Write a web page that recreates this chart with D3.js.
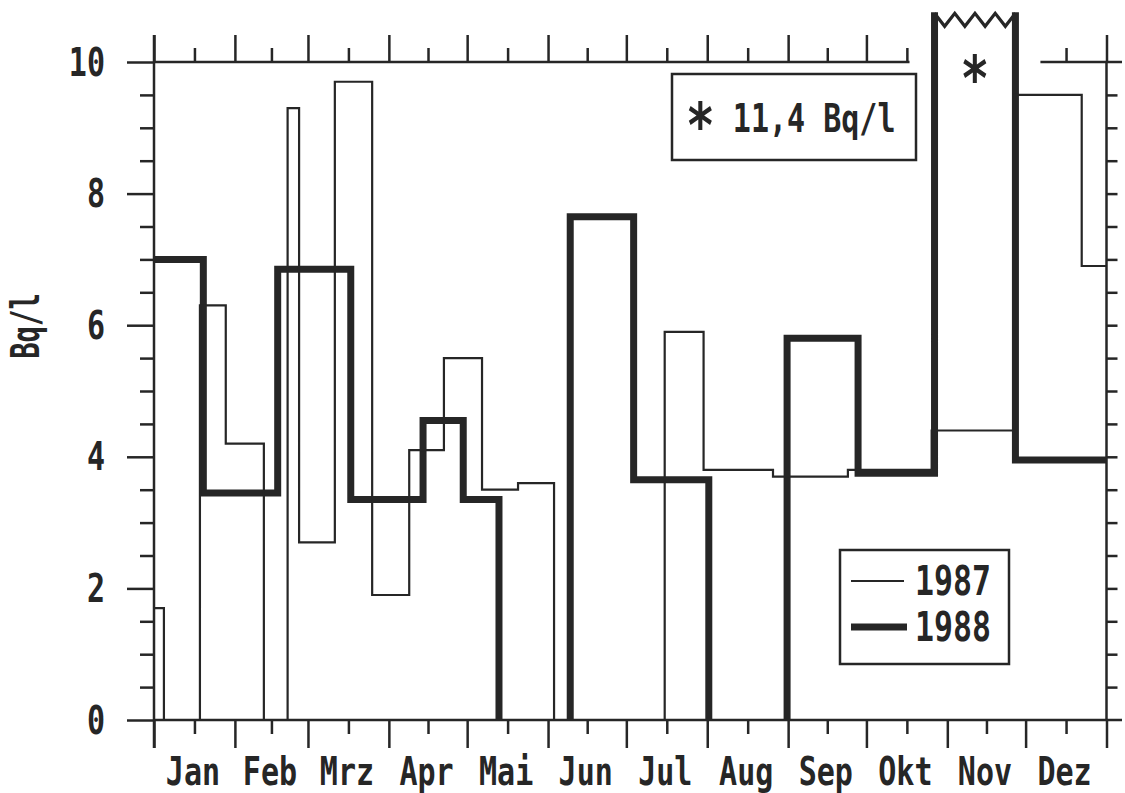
<!DOCTYPE html>
<html>
<head>
<meta charset="utf-8">
<script src="https://cdn.jsdelivr.net/npm/d3@7"></script>
<style>
  html, body { margin: 0; padding: 0; background: #fff; }
  svg { display: block; }
  text { font-family: "DejaVu Sans Mono", "Liberation Mono", monospace; font-weight: bold; fill: #262626; }
</style>
</head>
<body>
<svg id="chart" width="1125" height="793"></svg>
<script>
// Month names and lengths (non-leap year, x axis runs over day of year)
const months = ["Jan", "Feb", "Mrz", "Apr", "Mai", "Jun", "Jul", "Aug", "Sep", "Okt", "Nov", "Dez"];
const monthDays = [31, 28, 31, 30, 31, 30, 31, 31, 30, 31, 30, 31];
const yLabelTicks = [0, 2, 4, 6, 8, 10];

// Sampling periods (day-of-year boundaries) and mean activity in Bq/l; 0 = no sample
const bounds1987 = [0, 3.8, 17.6, 27.5, 42.1, 51.2, 55.6, 69.3, 83.6, 97.8, 111.1, 125.7, 139.5, 153.3, 195.7, 210.6, 237.2, 265.9, 298, 329.8, 355.5, 365];
const values1987 = [1.7, 0, 6.3, 4.2, 0, 9.3, 2.7, 9.7, 1.9, 4.1, 5.5, 3.5, 3.6, 0, 5.9, 3.8, 3.7, 3.8, 4.4, 9.5, 6.9];

const bounds1988 = [0, 18.9, 47.4, 75.4, 103.1, 118.5, 132.2, 159.5, 183.8, 212.6, 242.6, 269.8, 299.1, 330.1, 365];
const values1988 = [7.0, 3.45, 6.85, 3.35, 4.55, 3.35, 0, 7.65, 3.65, 0, 5.8, 3.75, 11.4, 3.95];

const seriesNames = ["1987", "1988"];
const noteText = "11,4 Bq/l";
const breakValue = 10.74;   // bars above this are cut with a zigzag

const INK = "#262626";
const FS = 39, SX = 0.77;   // narrow plotter-style lettering

const svg = d3.select("#chart");
const x = d3.scaleLinear().domain([0, 365]).range([154, 1106.5]);
const y = d3.scaleLinear().domain([0, 10]).range([720, 62]);

const monthStarts = d3.cumsum([0].concat(monthDays.slice(0, -1)));
const monthEdges = Array.from(monthStarts).concat([365]);
const monthMids = monthDays.map((d, i) => monthStarts[i] + d / 2);

function styleAxis(g, width) {
  g.selectAll("line").attr("stroke", INK).attr("stroke-width", width);
  g.select(".domain").remove();
}

function narrow(sel) {
  return sel.style("font-size", FS + "px");
}

// ---- bottom axis: month edges (long) and month middles (short, labelled)
const axisB = svg.append("g").attr("transform", `translate(0,${y(0)})`);
axisB.append("g").call(d3.axisBottom(x).tickValues(monthEdges).tickSize(28).tickFormat(""))
  .call(g => styleAxis(g, 2.5));
const axisBMid = axisB.append("g")
  .call(d3.axisBottom(x).tickValues(monthMids).tickSize(14).tickFormat((d, i) => months[i]))
  .call(g => styleAxis(g, 2.5));
axisBMid.selectAll("text")
  .attr("y", null).attr("dy", null).attr("fill", INK)
  .attr("transform", "translate(-2,65) scale(" + SX + ",1)")
  .call(narrow);
svg.append("line").attr("x1", x(0)).attr("x2", 1122).attr("y1", y(0)).attr("y2", y(0))
  .attr("stroke", INK).attr("stroke-width", 2.5);

// ---- top axis, interrupted where the cut November bar passes through
const cutIdx = values1988.findIndex(v => v > breakValue);
const gapL = x(bounds1988[cutIdx]) - 25, gapR = x(bounds1988[cutIdx + 1]) + 25;
const axisT = svg.append("g").attr("transform", `translate(0,${y(10)})`);
axisT.append("g").call(d3.axisTop(x).tickValues(monthEdges.filter(d => x(d) < gapL || x(d) > gapR)).tickSize(27).tickFormat(""))
  .call(g => styleAxis(g, 2.5));
axisT.append("g").call(d3.axisTop(x).tickValues(monthMids.filter(d => x(d) < gapL || x(d) > gapR)).tickSize(14).tickFormat(""))
  .call(g => styleAxis(g, 2.5));
svg.append("line").attr("x1", x(0)).attr("x2", gapL).attr("y1", y(10)).attr("y2", y(10))
  .attr("stroke", INK).attr("stroke-width", 2.5);
svg.append("line").attr("x1", gapR).attr("x2", 1122).attr("y1", y(10)).attr("y2", y(10))
  .attr("stroke", INK).attr("stroke-width", 2.5);

// ---- left axis
const halfSteps = d3.range(0.5, 10, 0.5);
const axisL = svg.append("g").attr("transform", `translate(${x(0)},0)`);
const axisLMajor = axisL.append("g")
  .call(d3.axisLeft(y).tickValues(yLabelTicks).tickSize(27).tickFormat(d3.format("d")))
  .call(g => styleAxis(g, 2.5));
axisLMajor.selectAll("text")
  .attr("x", null).attr("dy", null).attr("fill", INK)
  .attr("transform", "translate(-49,13) scale(" + SX + ",1)")
  .call(narrow);
axisL.append("g").call(d3.axisLeft(y).tickValues(halfSteps.filter(v => v % 2 !== 0)).tickSize(14).tickFormat(""))
  .call(g => styleAxis(g, 2.5));
svg.append("line").attr("x1", x(0)).attr("x2", x(0)).attr("y1", y(10) - 27).attr("y2", y(0) + 28)
  .attr("stroke", INK).attr("stroke-width", 2.5);

// ---- right axis
const axisR = svg.append("g").attr("transform", `translate(${x(365)},0)`);
axisR.append("g").call(d3.axisRight(y).tickValues(halfSteps).tickSize(11).tickFormat(""))
  .call(g => styleAxis(g, 2.5));
svg.append("line").attr("x1", x(365)).attr("x2", x(365)).attr("y1", y(10)).attr("y2", y(0))
  .attr("stroke", INK).attr("stroke-width", 2.5);

// ---- y title
svg.append("text")
  .attr("transform", "translate(39,326) rotate(-90) scale(0.7,1)")
  .attr("text-anchor", "middle")
  .style("font-size", FS + "px")
  .text("Bq/l");

// ---- step outlines: periods without a sample break the line at the baseline
function stepPoints(bounds, values) {
  const pts = [];
  const zigzags = [];
  values.forEach((v, i) => {
    const x0 = x(bounds[i]), x1 = x(bounds[i + 1]);
    if (v === 0) {
      if (pts.length && pts[pts.length - 1] !== null) pts.push([x0, y(0)], null);
      return;
    }
    if (i > 0 && values[i - 1] === 0) pts.push([x0, y(0)]);
    if (v > breakValue) {
      const yt = y(breakValue);
      pts.push([x0, yt - 1], null, [x1, yt - 1]);
      const zz = [];
      const n = 8;
      for (let k = 0; k <= n; k++) {
        zz.push([x0 + (x1 - x0) * k / n, (k % 2) ? yt + 13 : yt]);
      }
      zigzags.push(zz);
    } else {
      pts.push([x0, y(v)], [x1, y(v)]);
    }
  });
  return { pts, zigzags };
}

const line = d3.line().defined(d => d !== null).x(d => d[0]).y(d => d[1]);

const s87 = stepPoints(bounds1987, values1987);
const s88 = stepPoints(bounds1988, values1988);

svg.append("path").attr("d", line(s88.pts))
  .attr("fill", "none").attr("stroke", INK).attr("stroke-width", 7)
  .attr("stroke-linejoin", "miter").attr("stroke-linecap", "butt");
s88.zigzags.forEach(zz => {
  svg.append("path").attr("d", line(zz))
    .attr("fill", "none").attr("stroke", INK).attr("stroke-width", 3.2)
    .attr("stroke-linejoin", "miter");
});
svg.append("path").attr("d", line(s87.pts))
  .attr("fill", "none").attr("stroke", INK).attr("stroke-width", 2.2)
  .attr("stroke-linejoin", "miter").attr("stroke-linecap", "butt");

// asterisk inside the cut bar
svg.append("text")
  .attr("transform", `translate(${(x(bounds1988[cutIdx]) + x(bounds1988[cutIdx + 1])) / 2},100) scale(${SX},1)`)
  .attr("text-anchor", "middle")
  .style("font-size", "62px")
  .text("*");

// ---- note box
svg.append("rect").attr("x", 672).attr("y", 74).attr("width", 244).attr("height", 86)
  .attr("fill", "#fff").attr("stroke", INK).attr("stroke-width", 2.5);
const note = svg.append("text")
  .attr("transform", "translate(686,132) scale(" + SX + ",1)")
  .style("font-size", FS + "px");
note.append("tspan").attr("dy", 15).style("font-size", "62px").text("*");
note.append("tspan").attr("dy", -15).text(" " + noteText);

// ---- legend
const legend = svg.append("g");
legend.append("rect").attr("x", 840).attr("y", 550).attr("width", 169).attr("height", 114)
  .attr("fill", "#fff").attr("stroke", INK).attr("stroke-width", 2.5);
const legendRows = [{ name: seriesNames[0], w: 2.2, yy: 581, x2: 904 }, { name: seriesNames[1], w: 7, yy: 627, x2: 907 }];
legendRows.forEach(r => {
  legend.append("line").attr("x1", 851).attr("x2", r.x2).attr("y1", r.yy).attr("y2", r.yy)
    .attr("stroke", INK).attr("stroke-width", r.w);
  legend.append("text")
    .attr("transform", `translate(915,${r.yy + 14}) scale(${SX},1)`)
    .style("font-size", "41px")
    .text(r.name);
});
</script>
</body>
</html>
